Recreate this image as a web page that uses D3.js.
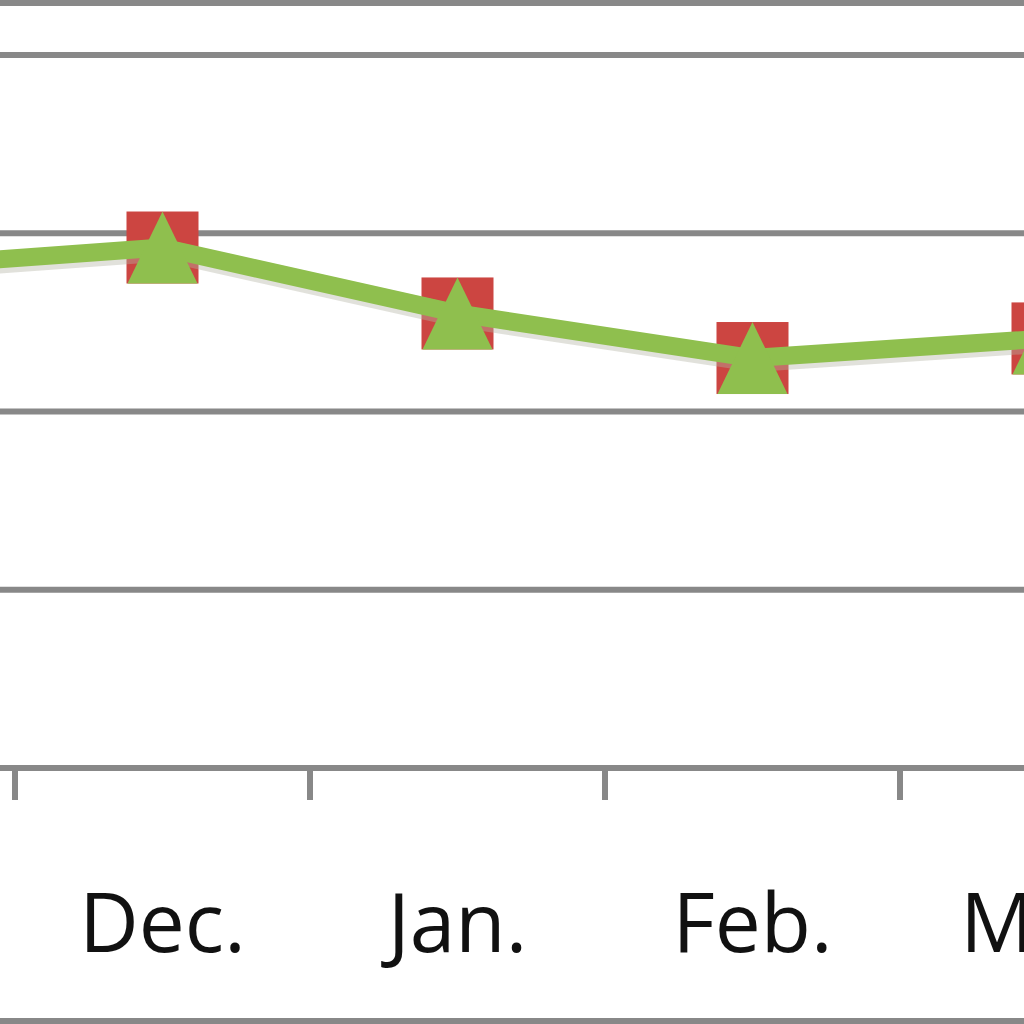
<!DOCTYPE html>
<html>
<head>
<meta charset="utf-8">
<script src="https://cdn.jsdelivr.net/npm/d3@7"></script>
<style>
html,body{margin:0;padding:0;background:#fff;overflow:hidden;}
svg{display:block;}
</style>
</head>
<body>
<svg id="chart" width="1024" height="1024"></svg>
<script>
// Data
const categories = ["Nov.", "Dec.", "Jan.", "Feb.", "Mar.", "Apr."];
const labelCategories = ["Dec.", "Jan.", "Feb.", "Mar."];
const seriesSquares = [28.0, 29.2, 25.5, 23.0, 24.1];
const seriesTriangles = [28.0, 29.2, 25.5, 23.0, 24.1];
const yTicks = [0, 10, 20, 30, 40];

const svg = d3.select("#chart");
const W = 1024, H = 1024;
const grey = "#888888";

const x = d3.scaleBand().domain(categories).range([-280, -280 + 295 * categories.length]).padding(0);
const y = d3.scaleLinear().domain([0, 40]).range([768, 55]);
const cx = c => x(c) + x.bandwidth() / 2;

// frame
svg.append("rect").attr("x", -10).attr("y", 3).attr("width", W + 20).attr("height", 1018)
  .attr("fill", "none").attr("stroke", grey).attr("stroke-width", 6);

// gridlines
svg.append("g").selectAll("line").data(yTicks.filter(d => d > 0)).join("line")
  .attr("x1", 0).attr("x2", W).attr("y1", d => y(d)).attr("y2", d => y(d))
  .attr("stroke", grey).attr("stroke-width", 6);

// x axis line
const xAxis = d3.axisBottom(x).tickSize(0).tickPadding(0).tickFormat("");
const gx = svg.append("g").attr("transform", `translate(0,${y(0)})`).call(xAxis);
gx.select(".domain").remove();
svg.append("line").attr("x1", 0).attr("x2", W).attr("y1", y(0)).attr("y2", y(0))
  .attr("stroke", grey).attr("stroke-width", 6);
// tick marks on category boundaries
svg.append("g").selectAll("line").data(categories).join("line")
  .attr("x1", d => x(d)).attr("x2", d => x(d))
  .attr("y1", y(0)).attr("y2", y(0) + 32)
  .attr("stroke", grey).attr("stroke-width", 6);

// labels
svg.append("g").selectAll("text").data(labelCategories).join("text")
  .attr("x", d => cx(d)).attr("y", 952)
  .attr("text-anchor", "middle")
  .attr("font-family", "Open Sans, sans-serif")
  .attr("font-size", 82)
  .attr("fill", "#111")
  .text(d => d);

const line = d3.line().x((d, i) => cx(categories[i])).y(d => y(d));

// red series line (under)
svg.append("path").datum(seriesSquares).attr("d", line)
  .attr("fill", "none").attr("stroke", "#C0504D").attr("stroke-width", 14);

// red square markers
const sq = 72;
svg.append("g").selectAll("rect").data(seriesSquares).join("rect")
  .attr("x", (d, i) => cx(categories[i]) - sq / 2)
  .attr("y", d => y(d) - sq / 2)
  .attr("width", sq).attr("height", sq)
  .attr("fill", "#CC4541");

// green line shadow
svg.append("path").datum(seriesTriangles).attr("d", line)
  .attr("transform", "translate(2,3)")
  .attr("fill", "none").attr("stroke", "#b5b5a5").attr("stroke-width", 22)
  .attr("opacity", 0.4);
// green line
svg.append("path").datum(seriesTriangles).attr("d", line)
  .attr("fill", "none").attr("stroke", "#8FBF4E").attr("stroke-width", 18)
  .attr("stroke-linejoin", "round");

// green triangles
const tw = 70, th = 72;
svg.append("g").selectAll("path").data(seriesTriangles).join("path")
  .attr("d", (d, i) => {
    const px = cx(categories[i]), py = y(d);
    return `M${px},${py - th / 2}L${px + tw / 2},${py + th / 2}L${px - tw / 2},${py + th / 2}Z`;
  })
  .attr("fill", "#8FBF4E");
</script>
</body>
</html>
